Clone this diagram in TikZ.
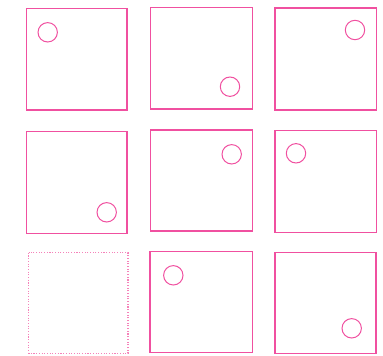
\documentclass[tikz,border=0pt]{standalone}
\usepackage{tikz}
\usetikzlibrary{calc}

\definecolor{hotpink}{RGB}{240,80,160}
\definecolor{palepink}{RGB}{245,130,185}

\tikzset{
    cell/.style={draw=hotpink, line width=1.3pt},
    emptycell/.style={draw=palepink, line width=1.3pt, dash pattern=on 1.1pt off 1.6pt},
    token/.style={draw=hotpink, line width=1pt}
}

\begin{document}
\begin{tikzpicture}[x=1pt, y=-1pt]
    \useasboundingbox (0,0) rectangle (383,356);

    % Grid cells (left, top, right, bottom)
    \foreach \l/\t/\r/\b/\name in {26.5/8.7/127/110/A, 150.7/7.3/252.7/109/B, 275/8/376.7/110/C,
                                   26.3/131.3/127/233.3/D, 150.7/130/252.7/231/E, 275/130.7/376.3/232.3/F,
                                   150/251.7/252.3/352.7/H, 275/252.3/376/353.3/I}
        \draw [cell] (\l,\t) coordinate (\name-nw) rectangle (\r,\b) coordinate (\name-se);

    % Empty cell
    \draw [emptycell] (28.7,252.7) coordinate (G-nw) rectangle (128,353.3) coordinate (G-se);

    % Tokens
    \foreach \x/\y/\name in {47.7/32.3/A, 230/86.7/B, 355/30/C,
                             106.7/212.3/D, 231.7/154.3/E, 296/153.3/F,
                             173.3/275.3/H, 351.7/328.3/I}
        \draw [token] (\x,\y) coordinate (\name-tok) circle (9.7);
\end{tikzpicture}
\end{document}
